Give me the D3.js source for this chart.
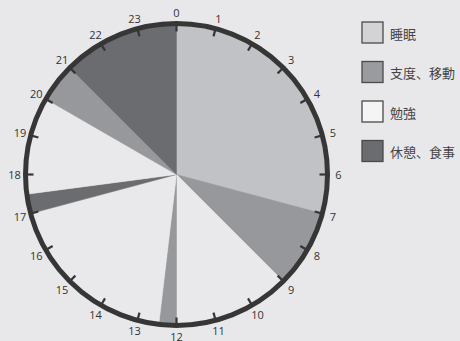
<!DOCTYPE html>
<html><head><meta charset="utf-8">
<script src="https://cdn.jsdelivr.net/npm/d3@7"></script>
<style>html,body{margin:0;padding:0;background:#e8e8ea;}svg{display:block;}</style>
</head><body>
<svg id="c" width="460" height="341"></svg>
<script>
const categories = ["睡眠", "支度、移動", "勉強", "休憩、食事"];
const pieColors = ["#c1c2c5", "#97989b", "#e9e9eb", "#6b6c70"];
const legendColors = ["#d3d3d5", "#9a9b9e", "#f4f4f4", "#6b6c70"];
const segHours = [7, 2, 3, 0.45, 4.55, 0.5, 2.5, 1, 3];
const segCategory = [0, 1, 2, 1, 2, 3, 2, 1, 3];
const hourLabels = ["0","1","2","3","4","5","6","7","8","9","10","11","12","13","14","15","16","17","18","19","20","21","22","23"];

const svg = d3.select("#c");
const cx = 176.5, cy = 174.5, R = 151;
const g = svg.append("g").attr("transform", `translate(${cx},${cy})`);

const angle = d3.scaleLinear().domain([0, 24]).range([0, 2 * Math.PI]);
const pie = d3.pie().sort(null).value(d => d.h).startAngle(0).endAngle(2 * Math.PI);
const arcs = pie(segHours.map((h, i) => ({h, c: segCategory[i]})));
const arc = d3.arc().innerRadius(0).outerRadius(R);
g.selectAll("path.slice").data(arcs).join("path")
  .attr("class", "slice")
  .attr("d", arc)
  .attr("fill", d => pieColors[d.data.c])
  .attr("stroke", d => pieColors[d.data.c])
  .attr("stroke-width", 0.5);

g.append("circle").attr("r", R).attr("fill", "none").attr("stroke", "#363636").attr("stroke-width", 5);

hourLabels.forEach((lab, i) => {
  const a = angle(i);
  const sx = Math.sin(a), sy = -Math.cos(a);
  g.append("line")
    .attr("x1", sx * (R - 8)).attr("y1", sy * (R - 8))
    .attr("x2", sx * R).attr("y2", sy * R)
    .attr("stroke", "#363636").attr("stroke-width", 2.2);
  g.append("text")
    .attr("x", sx * 162).attr("y", sy * 162)
    .attr("text-anchor", "middle").attr("dominant-baseline", "central")
    .attr("font-family", "'Open Sans', 'Noto Sans', sans-serif")
    .attr("font-size", 11).attr("fill", "#333")
    .text(lab);
});

const lg = svg.append("g");
categories.forEach((c, i) => {
  const y = 22 + i * 39.5;
  lg.append("rect").attr("x", 362).attr("y", y).attr("width", 21).attr("height", 21)
    .attr("fill", legendColors[i]).attr("stroke", "#4a4a4a").attr("stroke-width", 1.3);
  lg.append("text").attr("x", 390).attr("y", y + 11)
    .attr("dominant-baseline", "central")
    .attr("font-family", "'Noto Sans CJK JP', sans-serif")
    .attr("font-size", 13).attr("fill", "#444")
    .text(c);
});
</script>
</body></html>
